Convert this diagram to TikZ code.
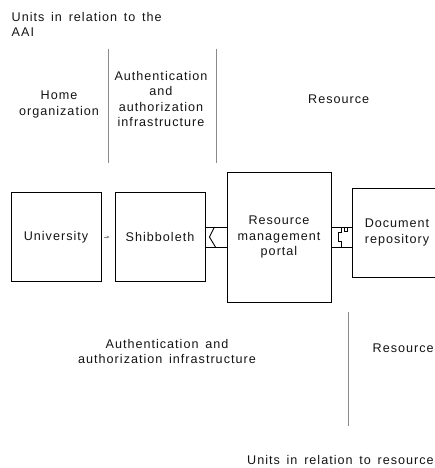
\documentclass[tikz,border=0pt]{standalone}
\usepackage{fontspec}
\setmainfont{Liberation Sans}[LetterSpace=8,WordSpace=1.5]
\usetikzlibrary{arrows.meta}
\definecolor{rule}{HTML}{8A8A8A}
\definecolor{ink}{HTML}{141414}
\begin{document}
\begin{tikzpicture}[x=1pt,y=-1pt,
  font=\fontsize{12.6}{15.5}\selectfont,
  every node/.style={text=ink},
  unit/.style={draw=black, line width=0.9pt, inner sep=0pt, align=center,
               minimum width=90pt, minimum height=89pt},
  label/.style={inner sep=0pt, align=center},
  divider/.style={draw=rule, line width=0.8pt},
  link/.style={draw=black, line width=0.9pt}]
\useasboundingbox (0,0) rectangle (434,468);

% column captions
\node[label, anchor=north west, align=left, font=\fontsize{12.6}{15}\selectfont]
  (aaiunits) at (11.5,12) {Units in relation to the\\AAI};
\node[label, anchor=north] (home) at (59,91) {Home\\organization};
\node[label, anchor=north] (aaicol) at (161,71)
  {Authentication\\and\\authorization\\infrastructure};
\node[label, anchor=north west] (rescol) at (308,95) {Resource};

% column dividers
\draw[divider] (108,49) -- (108,163);
\draw[divider] (216,49) -- (216,163);

% components
\node[unit] (uni)  at (56,237)  {University};
\node[unit] (shib) at (160,237) {Shibboleth};
\node[unit, minimum width=104pt, minimum height=130pt] (portal) at (279,237)
  {Resource\\management\\portal};
\node[unit] (doc)  at (397,232.5) {Document\\repository};

% University -> Shibboleth
\draw[rule, line width=0.6pt, -{Stealth[length=3pt,width=3pt]},
      shorten <=3pt, shorten >=5pt] (uni) -- (shib);

% Shibboleth -- portal (socket)
\coordinate (sTop) at ([yshift=10pt]shib.east);
\coordinate (sBot) at ([yshift=-10pt]shib.east);
\draw[link] (sTop) -- (sTop -| portal.west);
\draw[link] (sBot) -- (sBot -| portal.west);
\draw[link] ([xshift=9pt]sTop) -- ++(-5,10) -- ++(6,10);

% portal -- document repository (plug)
\coordinate (pTop) at ([yshift=10pt]portal.east);
\coordinate (pBot) at ([yshift=-10pt]portal.east);
\draw[link] (pTop) -- (pTop -| doc.west);
\draw[link] (pBot) -- (pBot -| doc.west);
\draw[link] ([xshift=10pt]pTop) -- ++(0,5) -- ++(-3,0) -- ++(0,9) -- ++(3,0) -- ++(0,6);
\draw[link, line width=0.7pt] ([xshift=13pt,yshift=-1pt]pTop) -- ++(0,3) -- ++(3,0) -- ++(0,-3);

% lower captions
\node[label, anchor=north] (aaibottom) at (167,339)
  {Authentication and\\authorization infrastructure};
\node[label, anchor=north west] (resbottom) at (372.5,344) {Resource};
\draw[divider] (348,312) -- (348,426);
\node[label, anchor=north west] (resunits) at (247,455)
  {Units in relation to resource};
\end{tikzpicture}
\end{document}
